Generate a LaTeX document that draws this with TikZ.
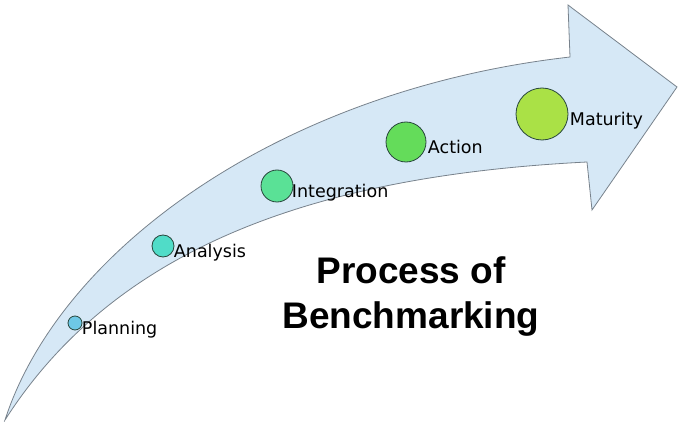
\documentclass[tikz,border=0pt]{standalone}
\usepackage{fontspec}
\setmainfont{DejaVu Sans}
\newfontfamily\titlefont{Liberation Sans}
\begin{document}
\begin{tikzpicture}[x=1pt,y=1pt,yscale=-1,xscale=1,
    stage/.style={circle,draw={rgb,255:red,40;green,70;blue,60},line width=0.8pt,inner sep=0pt},
    lbl/.style={anchor=north west,inner sep=0.75pt,font=\fontsize{17.5}{20}\selectfont}]
        \useasboundingbox (0,0) rectangle (680,422);

        %Shape: Curved Arrow
        \draw [draw={rgb, 255:red, 120; green, 130; blue, 140 },fill={rgb, 255:red, 214; green, 232; blue, 246 },line width=0.8pt] (5,420) .. controls (60,250) and (280,90) .. (570,57) -- (568,5) -- (677,87) -- (592,210) -- (587,162) .. controls (330,175) and (120,240) .. cycle ;

        % Stages
        \node [stage,minimum size=14pt,fill={rgb, 255:red, 110; green, 200; blue, 230 }] (plan) at (75,323) {};
        \node [stage,minimum size=22pt,fill={rgb, 255:red, 80; green, 220; blue, 200 }] (anal) at (163,246) {};
        \node [stage,minimum size=32pt,fill={rgb, 255:red, 90; green, 225; blue, 150 }] (integ) at (277,186) {};
        \node [stage,minimum size=40pt,fill={rgb, 255:red, 100; green, 220; blue, 90 }] (act) at (406,142) {};
        \node [stage,minimum size=52pt,fill={rgb, 255:red, 170; green, 225; blue, 70 }] (mat) at (542,114) {};

        % Text Node
        \node [lbl] (tplan) at (81,320) {Planning};
        \node [lbl] (tanal) at (173,243) {Analysis};
        \node [lbl] (tinteg) at (291,183) {Integration};
        \node [lbl] (tact) at (427,139) {Action};
        \node [lbl] (tmat) at (569,111) {Maturity};
        % Title
        \node [align=center,inner sep=0pt,font=\titlefont\bfseries\fontsize{37}{45}\selectfont] (title) at (411,297) {Process of\\Benchmarking};
\end{tikzpicture}
\end{document}
